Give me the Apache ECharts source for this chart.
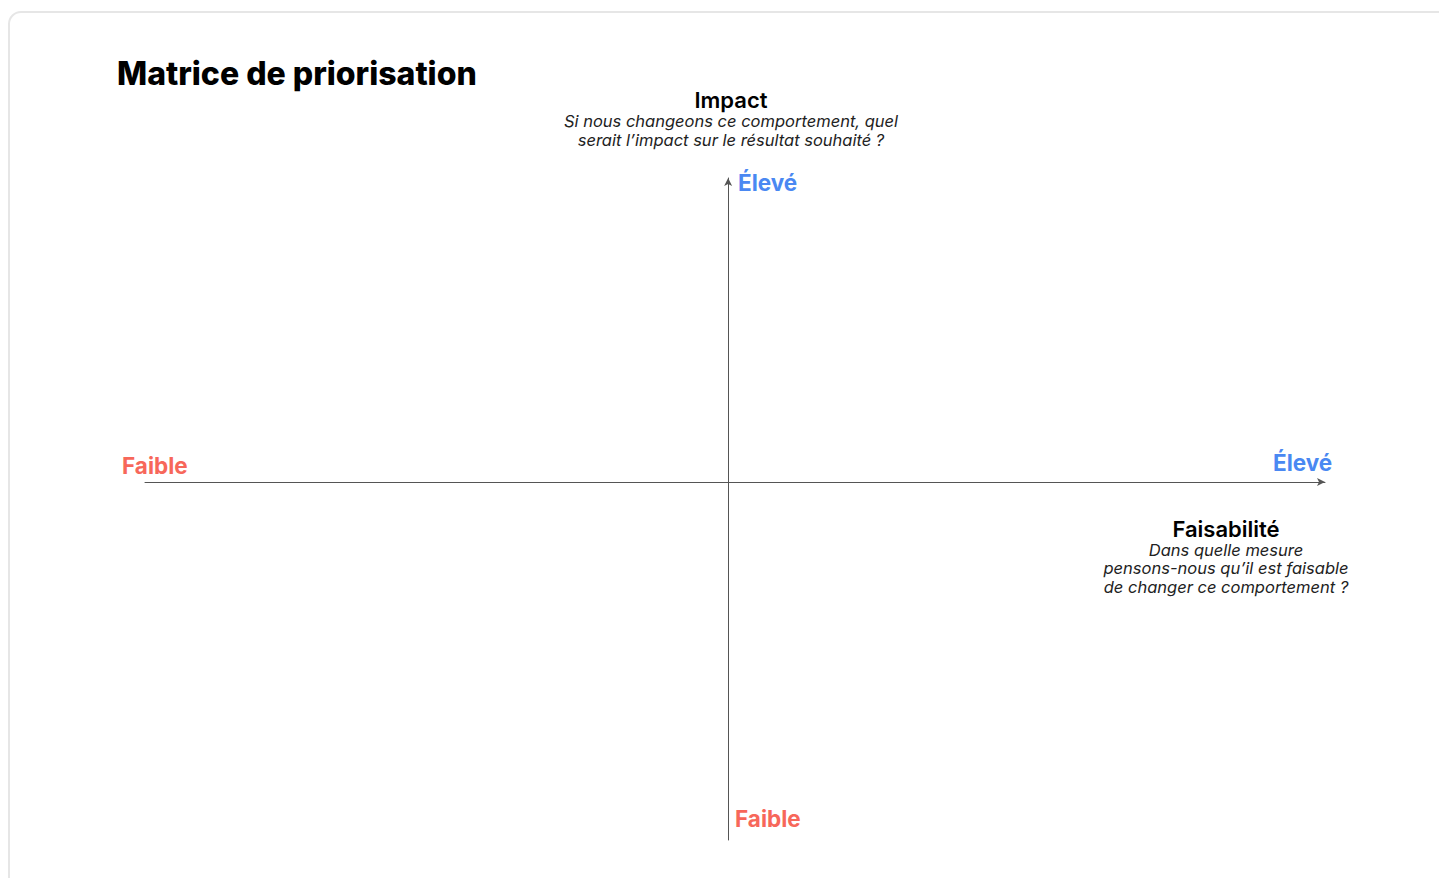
<!DOCTYPE html>
<html>
<head>
<meta charset="utf-8">
<title>Matrice de priorisation</title>
<script src="https://cdn.jsdelivr.net/npm/echarts@6/dist/echarts.min.js"></script>
<style>
  html, body { margin: 0; padding: 0; background: #fff; }
  #chart { width: 1439px; height: 878px; }
</style>
</head>
<body>
<div id="chart"></div>
<script>
// axis ranges (zero is where the two axes cross)
var xRange = [-0.977, 1];
var yRange = [-1.178, 1];

var chartTitle = 'Matrice de priorisation';
var yAxisTitle = 'Impact';
var yAxisQuestion = ['Si nous changeons ce comportement, quel', 'serait l\u2019impact sur le r\u00e9sultat souhait\u00e9 ?'];
var xAxisTitle = 'Faisabilit\u00e9';
var xAxisQuestion = ['Dans quelle mesure', 'pensons-nous qu\u2019il est faisable', 'de changer ce comportement ?'];
var lowLabel = 'Faible';
var highLabel = '\u00c9lev\u00e9';

var FONT = 'Inter, "Noto Sans", sans-serif';
var RED = '#F7675A';
var BLUE = '#4A88F2';

var chart = echarts.init(document.getElementById('chart'), null, { renderer: 'svg' });

function label(text, x, y, color, opts) {
  return {
    type: 'text', x: x, y: y,
    style: Object.assign({
      text: text, fill: color, font: 'bold 22.5px ' + FONT,
      textAlign: 'left', textVerticalAlign: 'middle'
    }, opts || {})
  };
}

var qFont = 'italic 16.5px ' + FONT;
var hFont = '600 22px ' + FONT;

var option = {
  animation: false,
  title: {
    text: chartTitle,
    left: 112, top: 52,
    textStyle: { color: '#000', fontSize: 32, fontWeight: 800, fontFamily: FONT }
  },
  grid: { left: 145, right: 114, top: 178, bottom: 38, containLabel: false },
  xAxis: {
    type: 'value', min: xRange[0], max: xRange[1],
    axisLine: { show: true, onZero: true, symbol: ['none', 'arrow'], symbolSize: [6, 8],
      lineStyle: { color: '#555', width: 1 } },
    axisTick: { show: false }, axisLabel: { show: false }, splitLine: { show: false }
  },
  yAxis: {
    type: 'value', min: yRange[0], max: yRange[1],
    axisLine: { show: true, onZero: true, symbol: ['none', 'arrow'], symbolSize: [6, 8],
      lineStyle: { color: '#555', width: 1 } },
    axisTick: { show: false }, axisLabel: { show: false }, splitLine: { show: false }
  },
  series: [{ type: 'scatter', data: [] }],
  graphic: [
    {
      type: 'rect', silent: true,
      shape: { x: 9, y: 12, width: 1460, height: 900, r: 12 },
      style: { fill: 'none', stroke: '#e6e6e6', lineWidth: 2 }
    },
    // vertical axis texts
    label(yAxisTitle, 731, 100, '#000', { textAlign: 'center', font: hFont }),
    label(yAxisQuestion[0], 731, 121, '#222', { textAlign: 'center', font: qFont }),
    label(yAxisQuestion[1], 731, 140, '#222', { textAlign: 'center', font: qFont }),
    label(highLabel, 738, 182, BLUE),
    label(lowLabel, 735, 818, RED),
    // horizontal axis texts
    label(lowLabel, 122, 465, RED),
    label(highLabel, 1273, 462, BLUE),
    label(xAxisTitle, 1226, 529, '#000', { textAlign: 'center', font: hFont }),
    label(xAxisQuestion[0], 1226, 550, '#222', { textAlign: 'center', font: qFont }),
    label(xAxisQuestion[1], 1226, 568, '#222', { textAlign: 'center', font: qFont }),
    label(xAxisQuestion[2], 1226, 587, '#222', { textAlign: 'center', font: qFont })
  ]
};

chart.setOption(option);
window.addEventListener('resize', function () { chart.resize(); });
</script>
</body>
</html>
